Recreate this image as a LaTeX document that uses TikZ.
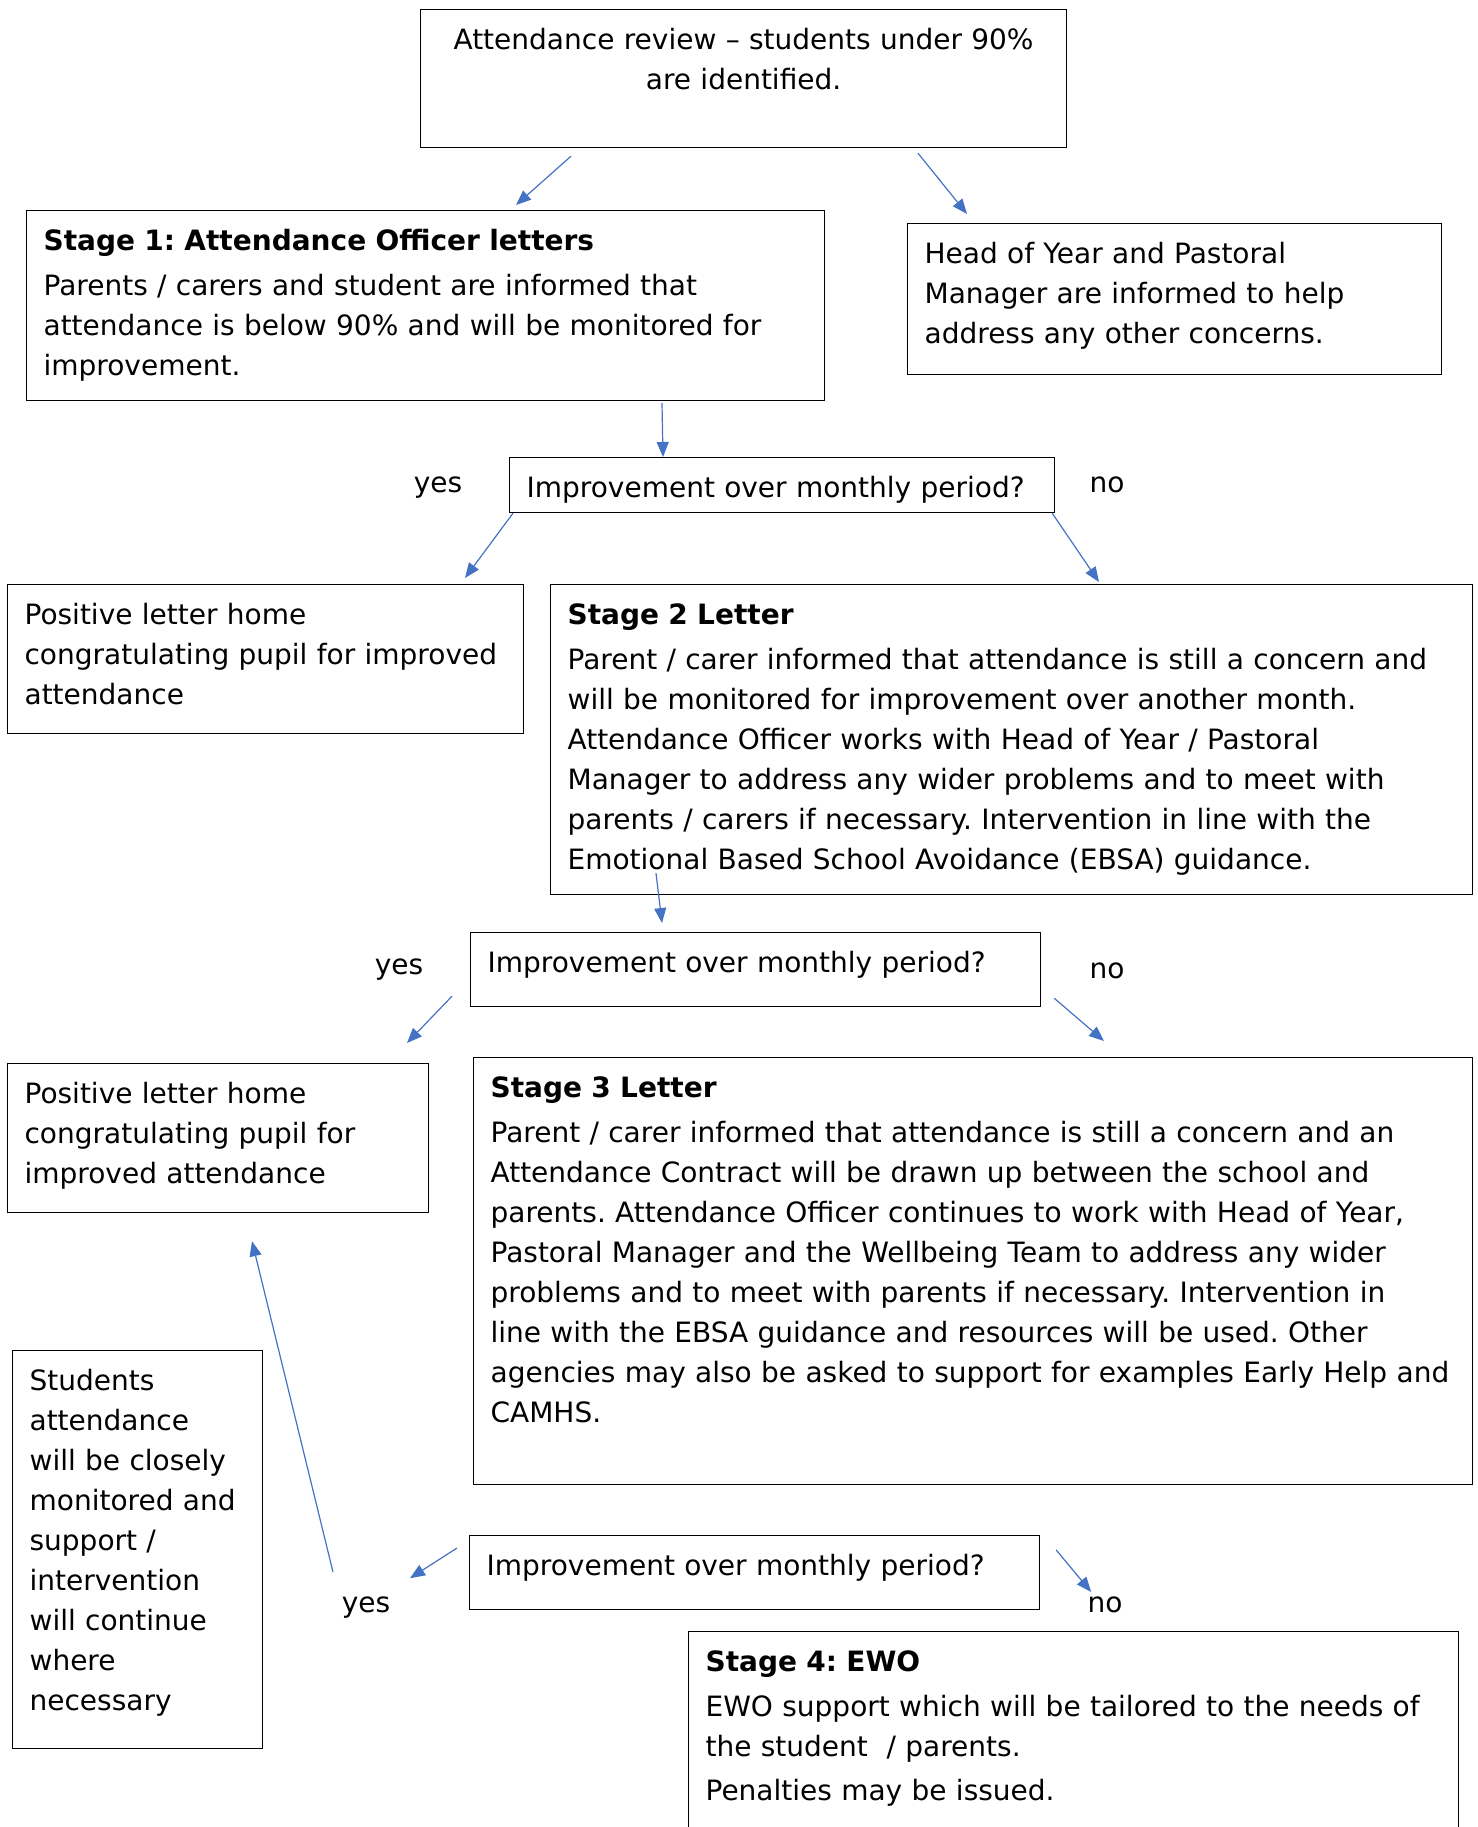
\documentclass[tikz,border=0pt]{standalone}
\usepackage{fontspec}
\setmainfont{DejaVu Sans}
\usepackage{xcolor}
\usetikzlibrary{arrows.meta}
\definecolor{flowblue}{RGB}{68,114,196}
\frenchspacing
\tikzset{
  stagebox/.style 2 args={draw=black, line width=0.6pt, anchor=north west, align=left,
    inner xsep=8.5pt, inner ysep=0pt, text width=#1, text height=20pt, text depth=#2},
  arr/.style={-{Triangle[length=7.5pt,width=6pt]}, flowblue, line width=0.6pt},
  yesno/.style={inner sep=1pt},
}

\begin{document}
\begin{tikzpicture}[x=0.5pt,y=-0.5pt,font=\fontsize{14}{20}\selectfont]
  \useasboundingbox (0,0) rectangle (1478,1827);
  % boxes
  \node[stagebox={306pt}{49pt}, align=center] (review) at (420,9)
    {Attendance review – students under 90\%\\are identified.};
  \node[stagebox={382pt}{75pt}] (stage1) at (26,210)
    {\textbf{Stage 1: Attendance Officer letters}\\[2.5pt]
     Parents / carers and student are informed that\\
     attendance is below 90\% and will be monitored for\\
     improvement.};
  \node[stagebox={250pt}{55.5pt}] (hoy) at (907,223)
    {Head of Year and Pastoral\\Manager are informed to help\\address any other concerns.};
  \node[stagebox={255.5pt}{7.5pt}] (askA) at (509,457) {Improvement over monthly period?};
  \node[stagebox={241pt}{54.5pt}] (goodA) at (7,584)
    {Positive letter home\\congratulating pupil for improved\\attendance};
  \node[stagebox={444pt}{135pt}] (stage2) at (550,584)
    {\textbf{Stage 2 Letter}\\[2.5pt]
     Parent / carer informed that attendance is still a concern and\\
     will be monitored for improvement over another month.\\
     Attendance Officer works with Head of Year / Pastoral\\
     Manager to address any wider problems and to meet with\\
     parents / carers if necessary. Intervention in line with the\\
     Emotional Based School Avoidance (EBSA) guidance.};
  \node[stagebox={268pt}{17pt}] (askB) at (470,932) {Improvement over monthly period?};
  \node[stagebox={193.5pt}{54.5pt}] (goodB) at (7,1063)
    {Positive letter home\\congratulating pupil for\\improved attendance};
  \node[stagebox={482.5pt}{193.5pt}] (stage3) at (473,1057)
    {\textbf{Stage 3 Letter}\\[2.5pt]
     Parent / carer informed that attendance is still a concern and an\\
     Attendance Contract will be drawn up between the school and\\
     parents. Attendance Officer continues to work with Head of Year,\\
     Pastoral Manager and the Wellbeing Team to address any wider\\
     problems and to meet with parents if necessary. Intervention in\\
     line with the EBSA guidance and resources will be used. Other\\
     agencies may also be asked to support for examples Early Help and\\
     CAMHS.};
  \node[stagebox={108pt}{179pt}] (watch) at (12,1350)
    {Students\\attendance\\will be closely\\monitored and\\support /\\intervention\\will continue\\where\\necessary};
  \node[stagebox={268pt}{17pt}] (askC) at (469,1535) {Improvement over monthly period?};
  \node[stagebox={368pt}{110pt}] (stage4) at (688,1631)
    {\textbf{Stage 4: EWO}\\[2.5pt]
     EWO support which will be tailored to the needs of\\
     the student~~/ parents.\\[2pt]
     Penalties may be issued.};
  % yes / no
  \node[yesno] (yesA) at (438,488) {yes};
  \node[yesno] (noA) at (1107,485) {no};
  \node[yesno] (yesB) at (399,970) {yes};
  \node[yesno] (noB) at (1107,971) {no};
  \node[yesno] (yesC) at (366,1608) {yes};
  \node[yesno] (noC) at (1105,1605) {no};
  % arrows
  \draw[arr] ([shift={(151,8)}]review.south west) -- ([shift={(490,-5)}]stage1.north west);
  \draw[arr] ([shift={(498,5)}]review.south west) -- ([shift={(60,-9)}]hoy.north west);
  \draw[arr] ([shift={(636,2)}]stage1.south west) -- ([shift={(154,0)}]askA.north west);
  \draw[arr] ([shift={(4,0)}]askA.south west) -- ([shift={(458,-6)}]goodA.north west);
  \draw[arr] ([shift={(-3,0)}]askA.south east) -- ([shift={(549,-2)}]stage2.north west);
  \draw[arr] ([shift={(106,-22)}]stage2.south west) -- ([shift={(192,-9)}]askB.north west);
  \draw[arr] ([shift={(-18,-11)}]askB.south west) -- ([shift={(400,-20)}]goodB.north west);
  \draw[arr] ([shift={(13,-9)}]askB.south east) -- ([shift={(631,-16)}]stage3.north west);
  \draw[arr] ([shift={(-33,-36)}]yesC.center) -- ([shift={(245,28)}]goodB.south west);
  \draw[arr] ([shift={(-12,13)}]askC.north west) -- ([shift={(-59,-32)}]askC.south west);
  \draw[arr] ([shift={(16,15)}]askC.north east) -- ([shift={(51,57)}]askC.north east);
\end{tikzpicture}
\end{document}
